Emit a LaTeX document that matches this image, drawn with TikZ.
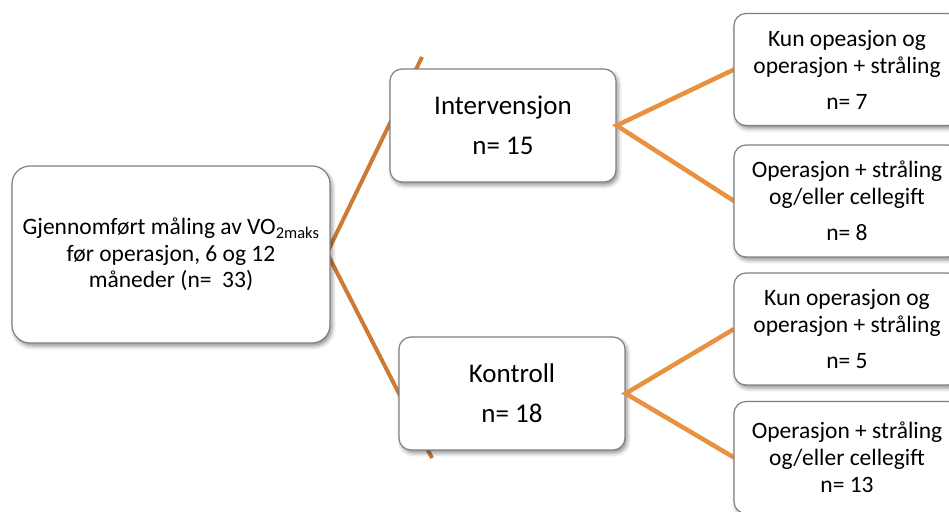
\documentclass[tikz,border=0pt]{standalone}
\usepackage{fontspec}
\setmainfont{Carlito}
\usetikzlibrary{shadows.blur}

\definecolor{linkdark}{RGB}{203,123,53}
\definecolor{linklight}{RGB}{232,145,63}
\definecolor{boxedge}{RGB}{128,128,128}

\tikzset{
  card/.style={draw=boxedge, line width=1.2pt, fill=white, rounded corners=12pt,
    align=center, inner sep=0pt,
    blur shadow={shadow xshift=2pt, shadow yshift=-3pt, shadow blur radius=4pt, shadow opacity=45}},
  rootcard/.style={card, rounded corners=18pt, minimum width=318pt, minimum height=177pt,
    font=\fontsize{23.5}{26.5}\selectfont},
  groupcard/.style={card, minimum width=226pt, minimum height=113pt,
    font=\fontsize{27}{40}\selectfont},
  leafcard/.style={card, minimum width=226pt, minimum height=112pt,
    font=\fontsize{23.5}{27}\selectfont},
  trunk/.style={draw=linkdark, line width=4pt, line join=miter},
  branch/.style={draw=linklight, line width=4.5pt},
}

\begin{document}
\begin{tikzpicture}[x=1pt, y=-1pt]
  \useasboundingbox (0,0) rectangle (949,511);

  % free ends of the two trunk lines
  \coordinate (ti) at (422,57);
  \coordinate (tk) at (432,458);
  \coordinate (apex) at (327,253);

  % trunk lines first, so the boxes sit on top of them
  \draw[trunk] (ti) -- (apex) -- (tk);

  \node[rootcard] (root) at (171,254.5)
    {Gjennomført måling av VO\textsubscript{2maks}\\ før operasjon, 6 og 12\\ måneder (n=~ 33)};

  \node[groupcard] (int) at (503,125.5) {Intervensjon\\ n= 15};
  \node[groupcard] (kon) at (512,393.5) {Kontroll\\ n= 18};

  % branch lines from each group to its two subgroups
  \coordinate (l1w) at (734,69.5);
  \coordinate (l2w) at (734,201);
  \coordinate (l3w) at (734,329);
  \coordinate (l4w) at (734,457.5);
  \draw[branch] (l1w) -- (int.east) -- (l2w);
  \draw[branch] (l3w) -- (kon.east) -- (l4w);

  \node[leafcard] (l1) at (847,69.5)
    {Kun opeasjon og\\ operasjon + stråling\\[9pt] n= 7};
  \node[leafcard] (l2) at (847,201)
    {Operasjon + stråling\\ og/eller cellegift\\[9pt] n= 8};
  \node[leafcard] (l3) at (847,329)
    {Kun operasjon og\\ operasjon + stråling\\[9pt] n= 5};
  \node[leafcard] (l4) at (847,457.5)
    {Operasjon + stråling\\ og/eller cellegift\\ n= 13};
\end{tikzpicture}
\end{document}
